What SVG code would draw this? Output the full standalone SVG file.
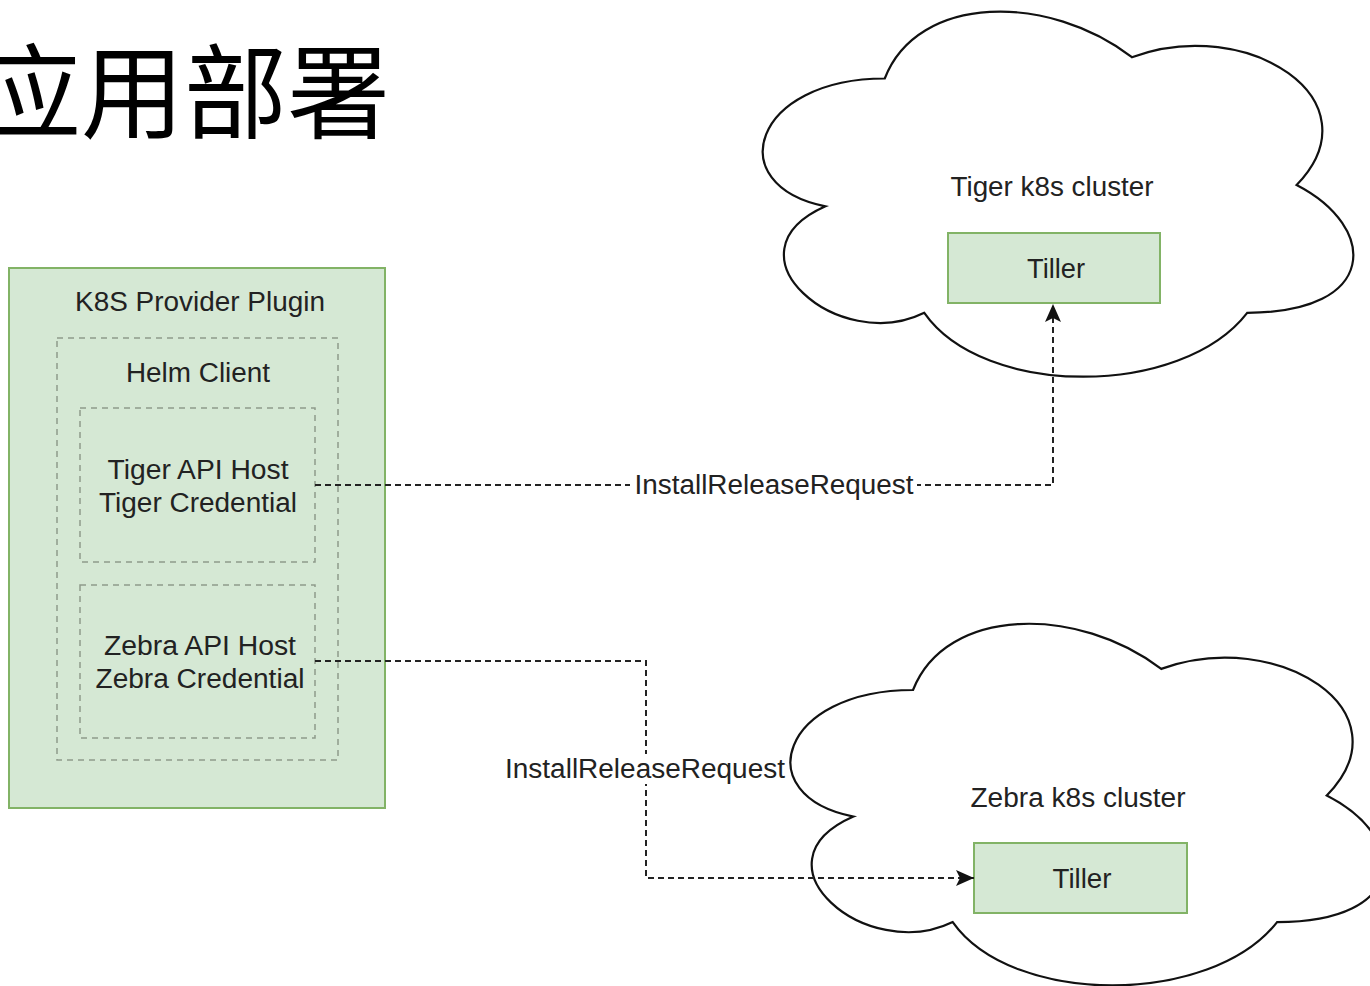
<svg xmlns="http://www.w3.org/2000/svg" width="1370" height="986" viewBox="0 0 1370 986">
  <style>
    .lbl { font-family: "Liberation Sans", Arial, sans-serif; font-size: 27px; fill: #222; text-anchor: middle; }
    .green { fill: #d5e8d4; stroke: #82b366; stroke-width: 2; }
    .dash { fill: none; stroke: #8e9a8b; stroke-width: 1.5; stroke-dasharray: 6 5; }
    .cloud { fill: #ffffff; stroke: #111; stroke-width: 2.2; }
    .conn { fill: none; stroke: #222; stroke-width: 2; stroke-dasharray: 6 4; }
    .title { font-family: "Noto Sans CJK SC", "Noto Sans CJK JP", sans-serif; font-size: 103px; fill: #000; }
  </style>
  <defs>
    <marker id="arr" viewBox="0 0 18 16" refX="18" refY="8" markerWidth="18" markerHeight="16" markerUnits="userSpaceOnUse" orient="auto">
      <path d="M0,0 L18,8 L0,16 L4,8 Z" fill="#111"/>
    </marker>
  </defs>
  <rect width="1370" height="986" fill="#ffffff"/>

  <g id="title">
    <text class="title" x="-22" y="131">应用部署</text>
  </g>

  <g id="tiger-cluster">
    <path class="cloud" d="M884.75,78.5 C752.95,78.5 720,185 825.44,206.3 C720,253.16 838.62,355.4 924.29,312.8 C983.6,398 1181.3,398 1247.2,312.8 C1379,312.8 1379,227.6 1296.6,185 C1379,99.8 1247.2,14.6 1131.9,57.2 C1049.5,-6.7 917.7,-6.7 884.75,78.5 Z"/>
    <text class="lbl" x="1052" y="196" textLength="203" lengthAdjust="spacingAndGlyphs">Tiger k8s cluster</text>
  </g>
  <g id="tiger-tiller">
    <rect class="green" x="948" y="233" width="212" height="70"/>
    <text class="lbl" x="1056" y="278" textLength="58" lengthAdjust="spacingAndGlyphs">Tiller</text>
  </g>

  <g id="zebra-cluster">
    <path class="cloud" d="M913,690 C780.6,690 747.5,795.5 853.42,816.6 C747.5,863.02 866.66,964.3 952.72,922.1 C1012.3,1006.5 1210.9,1006.5 1277.1,922.1 C1409.5,922.1 1409.5,837.7 1326.75,795.5 C1409.5,711.1 1277.1,626.7 1161.25,668.9 C1078.5,605.6 946.1,605.6 913,690 Z"/>
    <text class="lbl" x="1078" y="807" textLength="215" lengthAdjust="spacingAndGlyphs">Zebra k8s cluster</text>
  </g>
  <g id="zebra-tiller">
    <rect class="green" x="974" y="843" width="213" height="70"/>
    <text class="lbl" x="1082" y="888" textLength="59" lengthAdjust="spacingAndGlyphs">Tiller</text>
  </g>

  <g id="k8s-provider-plugin">
    <rect class="green" x="9" y="268" width="376" height="540"/>
    <text class="lbl" x="200" y="311" textLength="250" lengthAdjust="spacingAndGlyphs">K8S Provider Plugin</text>
  </g>
  <g id="helm-client">
    <rect class="dash" x="57" y="338" width="281" height="422"/>
    <text class="lbl" x="198" y="382" textLength="144" lengthAdjust="spacingAndGlyphs">Helm Client</text>
  </g>
  <g id="tiger-host">
    <rect class="dash" x="80" y="408" width="235" height="154"/>
    <text class="lbl" x="198" y="479" textLength="181" lengthAdjust="spacingAndGlyphs">Tiger API Host</text>
    <text class="lbl" x="198" y="512" textLength="198" lengthAdjust="spacingAndGlyphs">Tiger Credential</text>
  </g>
  <g id="zebra-host">
    <rect class="dash" x="80" y="585" width="235" height="153"/>
    <text class="lbl" x="200" y="655" textLength="192" lengthAdjust="spacingAndGlyphs">Zebra API Host</text>
    <text class="lbl" x="200" y="688" textLength="209" lengthAdjust="spacingAndGlyphs">Zebra Credential</text>
  </g>

  <g id="connectors">
    <path class="conn" d="M315,485 H1053 V304" marker-end="url(#arr)"/>
    <rect x="630" y="470" width="287" height="30" fill="#ffffff"/>
    <text class="lbl" x="774" y="494" textLength="279" lengthAdjust="spacingAndGlyphs">InstallReleaseRequest</text>
    <path class="conn" d="M315,661 H646 V878 H974" marker-end="url(#arr)"/>
    <rect x="503" y="754" width="284" height="30" fill="#ffffff"/>
    <text class="lbl" x="645" y="778" textLength="280" lengthAdjust="spacingAndGlyphs">InstallReleaseRequest</text>
  </g>
</svg>
